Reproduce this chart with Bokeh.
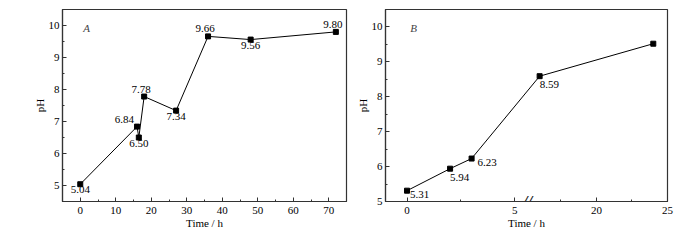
from bokeh.plotting import figure
from bokeh.layouts import row
from bokeh.models import (ColumnDataSource, SingleIntervalTicker, FixedTicker,
                          CustomJSTickFormatter, Range1d, Label)
from bokeh.embed import file_html
from bokeh.resources import INLINE
from bokeh.core.properties import value

# ---- data ----
time_a = [0, 16, 16.5, 18, 27, 36, 48, 72]
ph_a = [5.04, 6.84, 6.50, 7.78, 7.34, 9.66, 9.56, 9.80]
text_a = ["5.04", "6.84", "6.50", "7.78", "7.34", "9.66", "9.56", "9.80"]

time_b = [0, 2, 3, 16, 24]
ph_b = [5.31, 5.94, 6.23, 8.59, 9.52]
text_b = ["5.31", "5.94", "6.23", "8.59", ""]

xticks_b = [0, 5, 20, 25]
xminor_b = [2.5, 17.5, 22.5]

# broken axis for panel B: 0..5.5 then 15..25 compressed
BREAK_LO, BREAK_HI, SCALE2 = 5.5, 15.0, 0.66


def fwd(t):
    return t if t <= BREAK_LO else BREAK_LO + (t - BREAK_HI) * SCALE2


FONT = "Times"
FS = "11px"

# label placement styles
place_a = ["below", "left", "below", "aboveL", "below", "aboveL", "below", "aboveL"]
place_b = ["right_lo", "below_r", "right", "below_r", "none"]

OFFS = {
    "below": (0, 2, "center", "top"),
    "left": (-3, -4, "right", "bottom"),
    "aboveL": (-3, -4, "center", "bottom"),
    "right_lo": (3, 4, "left", "middle"),
    "below_r": (0, 5, "left", "top"),
    "right": (6, 4, "left", "middle"),
    "none": (0, 0, "left", "middle"),
}


def style(p):
    p.outline_line_color = "#333333"
    p.outline_line_width = 1.2
    p.background_fill_color = "white"
    p.border_fill_color = "white"
    p.grid.visible = False
    for ax in (p.xaxis[0], p.yaxis[0]):
        ax.axis_line_color = "#333333"
        ax.axis_line_width = 1.2
        ax.major_tick_in = 4
        ax.major_tick_out = 0
        ax.minor_tick_in = 2
        ax.minor_tick_out = 0
        ax.major_tick_line_color = "#333333"
        ax.minor_tick_line_color = "#333333"
        ax.major_label_text_font = FONT
        ax.major_label_text_font_size = FS
        ax.major_label_text_color = "black"
        ax.axis_label_text_font = FONT
        ax.axis_label_text_font_size = FS
        ax.axis_label_text_font_style = "normal"
        ax.axis_label_text_color = "black"
    p.xaxis.axis_label = "Time / h"
    p.yaxis.axis_label = "pH"
    p.xaxis.major_label_standoff = 5
    p.xaxis.axis_label_standoff = 0
    p.yaxis.major_label_standoff = 3


def add_labels(p, xs, ys, texts, places):
    src = ColumnDataSource(dict(
        x=xs, y=ys, t=texts,
        xo=[OFFS[k][0] for k in places],
        yo=[OFFS[k][1] for k in places],
        al=[OFFS[k][2] for k in places],
        bl=[OFFS[k][3] for k in places],
    ))
    p.text(x="x", y="y", text="t", x_offset="xo", y_offset="yo",
           text_align="al", text_baseline="bl", source=src,
           text_font=value(FONT), text_font_size=FS, text_color="black")


# ---- panel A ----
pA = figure(width=350, height=236, output_backend="svg", toolbar_location=None,
            x_range=Range1d(-5, 75), y_range=Range1d(4.5, 10.5),
            min_border_left=62, min_border_right=4, min_border_top=9,
            min_border_bottom=35)
style(pA)
pA.xaxis.ticker = SingleIntervalTicker(interval=10, num_minor_ticks=2)
pA.yaxis.ticker = SingleIntervalTicker(interval=1, num_minor_ticks=2)
pA.yaxis.axis_label_standoff = 0
pA.line(time_a, ph_a, line_color="black", line_width=1)
pA.scatter(time_a, ph_a, marker="square", size=5, color="black")
add_labels(pA, time_a, ph_a, text_a, place_a)
pA.add_layout(Label(x=1.8, y=9.93, text="A", text_font=FONT, text_font_size=FS,
                    text_font_style="italic", text_align="center",
                    text_baseline="middle"))

# ---- panel B ----
ub = [fwd(t) for t in time_b]
pB = figure(width=346, height=236, output_backend="svg", toolbar_location=None,
            x_range=Range1d(-1, fwd(25)), y_range=Range1d(5, 10.5),
            min_border_left=35, min_border_right=29, min_border_top=9,
            min_border_bottom=35)
style(pB)
pB.xaxis.ticker = FixedTicker(ticks=[fwd(t) for t in xticks_b],
                              minor_ticks=[fwd(t) for t in xminor_b])
pB.xaxis.formatter = CustomJSTickFormatter(
    args=dict(lo=BREAK_LO, hi=BREAK_HI, s=SCALE2),
    code="""
    const t = tick <= lo + 1e-9 ? tick : hi + (tick - lo) / s;
    return Math.round(t).toString();
    """)
pB.yaxis.ticker = SingleIntervalTicker(interval=1, num_minor_ticks=2)
pB.yaxis.axis_label_standoff = 0
pB.line(ub, ph_b, line_color="black", line_width=1)
pB.scatter(ub, ph_b, marker="square", size=5, color="black")
add_labels(pB, ub, ph_b, text_b, place_b)
pB.add_layout(Label(x=0.31, y=9.97, text="B", text_font=FONT, text_font_size=FS,
                    text_font_style="italic", text_align="center",
                    text_baseline="middle"))
pB.add_layout(Label(x=BREAK_LO + 0.1, y=5, text="//", text_font=FONT,
                    text_font_size="17px", text_font_style="bold italic",
                    text_align="center", text_baseline="middle",
                    text_color="#222222"))

layout = row(pA, pB)
open("out.html", "w").write(file_html(layout, INLINE))
